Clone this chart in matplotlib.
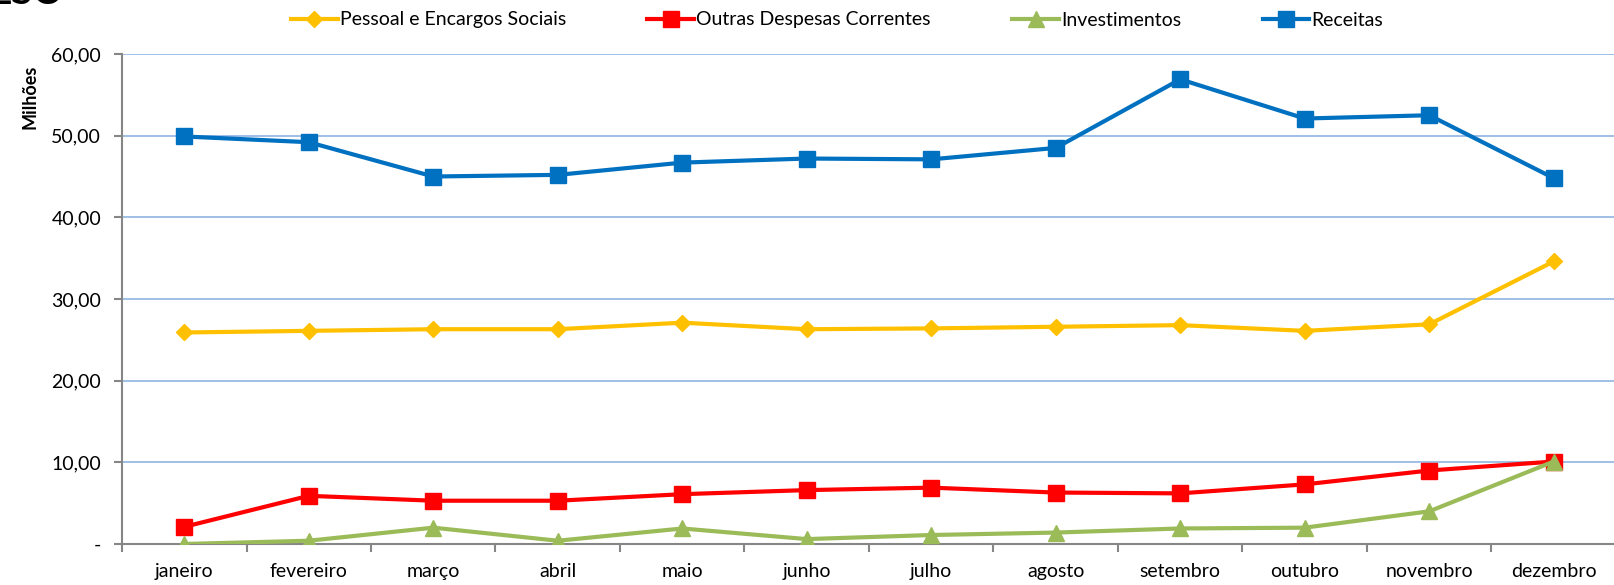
import matplotlib
matplotlib.use('Agg')
import matplotlib.pyplot as plt
from matplotlib.ticker import FuncFormatter

meses = ['janeiro', 'fevereiro', 'março', 'abril', 'maio', 'junho',
         'julho', 'agosto', 'setembro', 'outubro', 'novembro', 'dezembro']

# valores em milhões
pessoal = [25.9, 26.1, 26.3, 26.3, 27.1, 26.3, 26.4, 26.6, 26.8, 26.1, 26.9, 34.6]
outras = [2.1, 5.9, 5.3, 5.3, 6.1, 6.6, 6.9, 6.3, 6.2, 7.3, 9.0, 10.1]
investimentos = [0.0, 0.4, 2.0, 0.4, 1.9, 0.6, 1.1, 1.4, 1.9, 2.0, 4.0, 10.1]
receitas = [49.9, 49.2, 45.0, 45.2, 46.7, 47.2, 47.1, 48.5, 56.9, 52.1, 52.5, 44.8]

plt.rcParams['font.family'] = ['Lato', 'DejaVu Sans']

fig = plt.figure(figsize=(16.15, 5.85), dpi=100)
ax = fig.add_axes([122 / 1615, 41 / 585, 1494 / 1615, 490 / 585])

x = range(len(meses))
ax.plot(x, pessoal, color='#FFC000', lw=3, marker='D', ms=8, label='Pessoal e Encargos Sociais', zorder=3)
ax.plot(x, outras, color='#FF0000', lw=3, marker='s', ms=11.5, label='Outras Despesas Correntes', zorder=3)
ax.plot(x, investimentos, color='#9BBB59', lw=3, marker='^', ms=12, label='Investimentos', zorder=3)
ax.plot(x, receitas, color='#0070C0', lw=3, marker='s', ms=11.5, label='Receitas', zorder=3)

ax.set_xlim(-0.5, len(meses) - 0.5)
ax.set_ylim(0, 60)
ax.set_yticks(range(0, 61, 10))
ax.yaxis.set_major_formatter(FuncFormatter(lambda v, p: '-' if v == 0 else f'{v:.2f}'.replace('.', ',')))
ax.set_xticks(list(x))
ax.set_xticklabels(meses)
ax.set_xticks([i - 0.5 for i in range(len(meses) + 1)], minor=True)
ax.tick_params(axis='x', which='major', length=0, pad=14, labelsize=14)
ax.tick_params(axis='x', which='minor', length=6, width=1.5, color='#868686')
ax.tick_params(axis='y', length=6, width=1.5, color='#868686', labelsize=14, pad=9)

ax.grid(axis='y', color='#8DB4E2', lw=1.2)
ax.set_axisbelow(True)
for s in ['top', 'right']:
    ax.spines[s].set_visible(False)
for s in ['left', 'bottom']:
    ax.spines[s].set_color('#868686')
    ax.spines[s].set_linewidth(1.5)

fig.text(30 / 1615, 1 - 97 / 585, 'Milhões', rotation=90, fontsize=13, fontweight='bold',
         ha='center', va='center')
fig.text(-0.006, 1.012, 'ESC', fontsize=28, fontweight='bold', ha='left', va='center')

fig.legend(loc='center', bbox_to_anchor=(837 / 1615, 1 - 20 / 585), ncol=4, frameon=False,
           fontsize=14, handlelength=2.4, handletextpad=0.1, columnspacing=4.2)

fig.savefig('out.png', dpi=100)
